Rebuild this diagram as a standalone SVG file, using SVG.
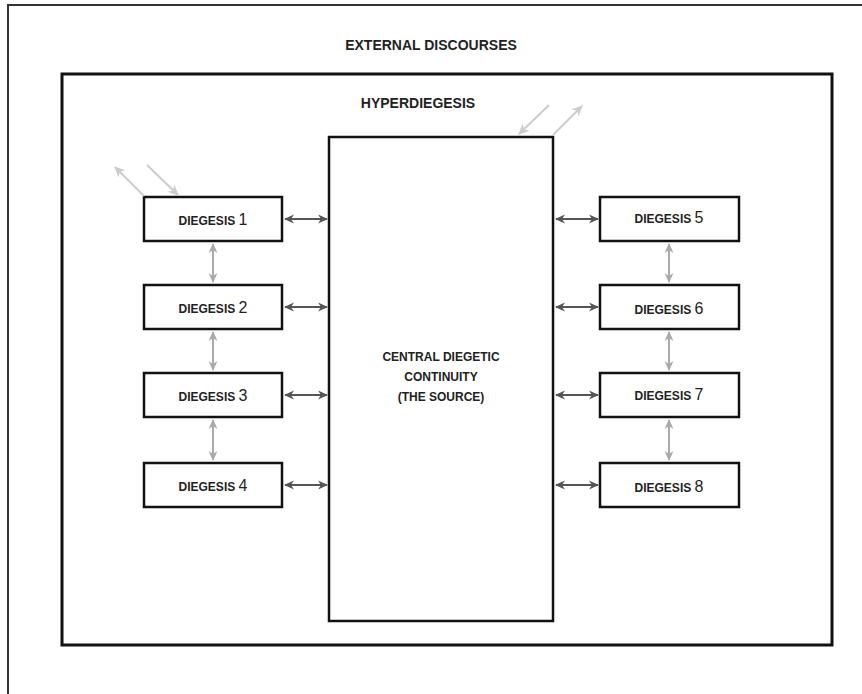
<svg xmlns="http://www.w3.org/2000/svg" width="862" height="694" viewBox="0 0 862 694">
<defs>
<style>
.box{fill:#fff;stroke:#111;stroke-width:2.5}
.lbl{font-family:"Liberation Sans",Arial,sans-serif;fill:#222;text-anchor:middle}
.sm{font-size:12px;font-weight:bold}
.num{font-size:16px}
.dark{stroke:#555;stroke-width:2;fill:none;marker-start:url(#ad);marker-end:url(#ad)}
.light{stroke:#aaa;stroke-width:2;fill:none;marker-start:url(#al);marker-end:url(#al)}
.pale{stroke:#ccc;stroke-width:2;fill:none;marker-end:url(#ap)}
</style>
<marker id="ad" viewBox="0 0 10 10" refX="9" refY="5" markerWidth="10" markerHeight="10" orient="auto-start-reverse" markerUnits="userSpaceOnUse"><path d="M0,0.5 L10,5 L0,9.5 L3,5 Z" fill="#555"/></marker>
<marker id="al" viewBox="0 0 10 10" refX="9" refY="5" markerWidth="10" markerHeight="10" orient="auto-start-reverse" markerUnits="userSpaceOnUse"><path d="M0,0.5 L10,5 L0,9.5 L3,5 Z" fill="#aaa"/></marker>
<marker id="ap" viewBox="0 0 10 10" refX="9" refY="5" markerWidth="11" markerHeight="11" orient="auto" markerUnits="userSpaceOnUse"><path d="M0,0.5 L10,5 L0,9.5 L3,5 Z" fill="#ccc"/></marker>
</defs>
<rect width="862" height="694" fill="#fff"/>
<g id="external">
<path d="M8,694 L8,5 L862,5" fill="none" stroke="#333" stroke-width="2"/>
<text class="lbl" x="431" y="50" font-size="14" font-weight="bold">EXTERNAL DISCOURSES</text>
</g>
<g id="hyperdiegesis">
<rect x="62" y="74" width="770" height="571" fill="#fff" stroke="#111" stroke-width="3"/>
<text class="lbl" x="418" y="108" font-size="14" font-weight="bold">HYPERDIEGESIS</text>
</g>
<g id="central">
<rect class="box" x="329" y="137" width="224" height="484"/>
<text class="lbl sm" x="441" y="361">CENTRAL DIEGETIC</text>
<text class="lbl sm" x="441" y="381">CONTINUITY</text>
<text class="lbl sm" x="441" y="401">(THE SOURCE)</text>
</g>
<g id="d1"><rect class="box" x="144" y="197" width="138" height="44"/><text class="lbl" x="213" y="225"><tspan class="sm">DIEGESIS </tspan><tspan class="num">1</tspan></text></g>
<g id="d2"><rect class="box" x="144" y="285" width="138" height="44"/><text class="lbl" x="213" y="313"><tspan class="sm">DIEGESIS </tspan><tspan class="num">2</tspan></text></g>
<g id="d3"><rect class="box" x="144" y="373" width="138" height="44"/><text class="lbl" x="213" y="401"><tspan class="sm">DIEGESIS </tspan><tspan class="num">3</tspan></text></g>
<g id="d4"><rect class="box" x="144" y="463" width="138" height="44"/><text class="lbl" x="213" y="491"><tspan class="sm">DIEGESIS </tspan><tspan class="num">4</tspan></text></g>
<g id="d5"><rect class="box" x="600" y="197" width="139" height="44"/><text class="lbl" x="669" y="223"><tspan class="sm">DIEGESIS </tspan><tspan class="num">5</tspan></text></g>
<g id="d6"><rect class="box" x="600" y="285" width="139" height="44"/><text class="lbl" x="669" y="314"><tspan class="sm">DIEGESIS </tspan><tspan class="num">6</tspan></text></g>
<g id="d7"><rect class="box" x="600" y="373" width="139" height="44"/><text class="lbl" x="669" y="400"><tspan class="sm">DIEGESIS </tspan><tspan class="num">7</tspan></text></g>
<g id="d8"><rect class="box" x="600" y="463" width="139" height="44"/><text class="lbl" x="669" y="492"><tspan class="sm">DIEGESIS </tspan><tspan class="num">8</tspan></text></g>
<g id="connectors">
<line class="dark" x1="285" y1="219" x2="327" y2="219"/>
<line class="dark" x1="285" y1="307" x2="327" y2="307"/>
<line class="dark" x1="285" y1="395" x2="327" y2="395"/>
<line class="dark" x1="285" y1="485" x2="327" y2="485"/>
<line class="dark" x1="556" y1="219" x2="598" y2="219"/>
<line class="dark" x1="556" y1="307" x2="598" y2="307"/>
<line class="dark" x1="556" y1="395" x2="598" y2="395"/>
<line class="dark" x1="556" y1="485" x2="598" y2="485"/>
<line class="light" x1="213" y1="244" x2="213" y2="282"/>
<line class="light" x1="213" y1="332" x2="213" y2="370"/>
<line class="light" x1="213" y1="420" x2="213" y2="460"/>
<line class="light" x1="669" y1="244" x2="669" y2="282"/>
<line class="light" x1="669" y1="332" x2="669" y2="370"/>
<line class="light" x1="669" y1="420" x2="669" y2="460"/>
<line class="pale" x1="144" y1="196" x2="115" y2="167"/>
<line class="pale" x1="147" y1="165" x2="178" y2="195"/>
<line class="pale" x1="549" y1="105" x2="519" y2="134"/>
<line class="pale" x1="553" y1="135" x2="582" y2="106"/>
</g>
</svg>
